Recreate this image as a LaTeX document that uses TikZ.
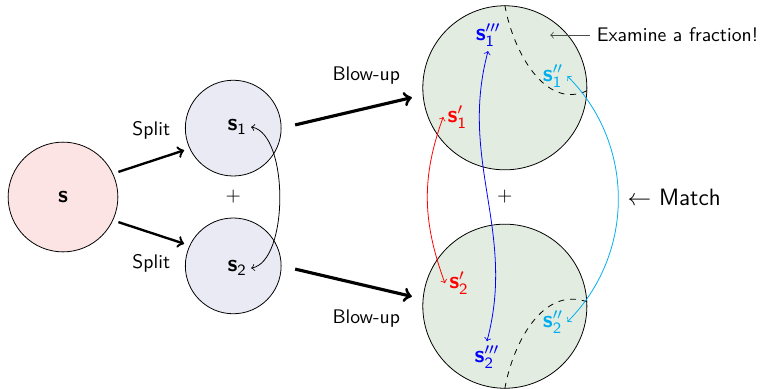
\documentclass[tikz,border=0pt]{standalone}
\usetikzlibrary{positioning, calc}

\definecolor{skyline}{RGB}{0,174,239}
\definecolor{wholefill}{RGB}{253,228,228}
\definecolor{halffill}{RGB}{234,234,245}
\definecolor{blowfill}{RGB}{226,236,224}

\begin{document}
\begin{tikzpicture}[
    font=\sffamily,
    ball/.style={
        draw=black,
        circle,
        inner sep=0pt
    },
    split arrow/.style={
        ->,
        very thick,
        shorten <=0.1cm,
        shorten >=0.1cm
    },
    blow arrow/.style={
        ->,
        ultra thick,
        shorten <=0.25cm,
        shorten >=0.2cm
    },
    match arrow/.style={<->},
    piece/.style={inner sep=2pt, font=\sffamily\large}
]
    \useasboundingbox (-1.125,-3.411) rectangle (12.5,3.518);

    % Whole set
    \node[ball, fill=wholefill, minimum size=1.96cm, font=\sffamily\large] (whole) at (0,0) {\textbf{s}};

    % --- A. SPLIT HALVES ---
    \node[ball, fill=halffill, minimum size=1.71cm] (half1) at (3.04,1.23) {};
    \node[ball, fill=halffill, minimum size=1.71cm] (half2) at (3.04,-1.23) {};
    \node[piece] (h1lbl) at (3.11,1.25) {\textbf{s}$_\mathsf{1}$};
    \node[piece] (h2lbl) at (3.11,-1.27) {\textbf{s}$_\mathsf{2}$};
    \node (plus1) at (3.04,0) {$+$};

    \draw[split arrow] (whole.25) -- (half1.205) node[midway, above=7pt] {Split};
    \draw[split arrow] (whole.-25) -- (half2.155) node[midway, below=7pt] {Split};
    \draw[match arrow] (h1lbl.east) to[out=-10, in=10, looseness=0.7] (h2lbl.east);

    % --- B. BLOWN-UP HALVES ---
    \node[ball, fill=blowfill, minimum size=2.93cm] (blow1) at (7.89,1.95) {};
    \node[ball, fill=blowfill, minimum size=2.93cm] (blow2) at (7.89,-1.95) {};
    \node (plus2) at (7.89,0) {$+$};

    \draw[blow arrow] (half1.east) -- (blow1.185) node[pos=0.6, above=8pt] {Blow-up};
    \draw[blow arrow] (half2.east) -- (blow2.175) node[pos=0.6, below=8pt] {Blow-up};

    % examined fractions
    \draw[dashed] (blow1.north) to[out=-80, in=205] (blow1.-2);
    \draw[dashed] (blow2.south) to[out=80, in=160] (blow2.3);

    % pieces of the first half
    \node[piece, text=blue] (b1t) at (7.59,2.89) {\textbf{s}$_\mathsf{1}^{\prime\prime\prime}$};
    \node[piece, text=skyline] (b1d) at (8.75,2.16) {\textbf{s}$_\mathsf{1}^{\prime\prime}$};
    \node[piece, text=red] (b1p) at (7.04,1.43) {\textbf{s}$_\mathsf{1}^{\prime}$};

    % pieces of the second half
    \node[piece, text=red] (b2p) at (7.07,-1.54) {\textbf{s}$_\mathsf{2}^{\prime}$};
    \node[piece, text=skyline] (b2d) at (8.75,-2.23) {\textbf{s}$_\mathsf{2}^{\prime\prime}$};
    \node[piece, text=blue] (b2t) at (7.57,-2.86) {\textbf{s}$_\mathsf{2}^{\prime\prime\prime}$};

    % --- C. MATCHING ---
    \draw[match arrow, red] (b1p.west) to[out=250, in=110] (b2p.west);
    \draw[match arrow, blue] (b1t.south) to[out=255, in=75] (b2t.north);
    \draw[match arrow, skyline] (b1d.east) to[out=-45, in=45] (b2d.east);

    \coordinate (fracpt) at (8.70,2.89);
    \node[right=0.71cm of fracpt] (examine) {Examine a fraction!};
    \draw[->, black!70] (examine.west) -- (fracpt);

    \node[anchor=west, font=\sffamily\large] (match) at (9.96,0) {$\leftarrow$ Match};

\end{tikzpicture}
\end{document}
